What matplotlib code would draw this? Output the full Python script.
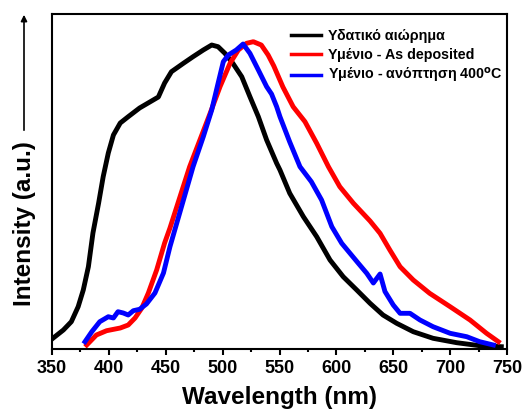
import numpy as np
import matplotlib
matplotlib.use("Agg")
import matplotlib.pyplot as plt
from matplotlib.ticker import MultipleLocator

plt.rcParams['font.family'] = ['Liberation Sans', 'DejaVu Sans']
plt.rcParams['font.weight'] = 'bold'

# Φάσματα φωτοφωταύγειας (ένταση σε pixel από τον άξονα, 349 = μηδέν)
wl_suspension = [350, 360, 367, 373, 377.5, 382, 386, 391, 395, 399.5, 404, 410, 417, 427,
                 436, 443.5, 449, 455, 465.5, 474, 483, 490.4, 496, 502, 509, 516.8, 524,
                 531.4, 538.7, 547.5, 550.4, 559, 571, 582.7, 594.4, 606, 617.9, 629.6,
                 641, 653, 667.6, 685, 705.8, 726, 745]
px_suspension = [339, 330, 321.7, 306.7, 290, 266.7, 233, 203, 176.7, 153, 135, 123, 116.7, 108,
                 102, 97, 83, 71.7, 63.3, 56.7, 50, 45, 46.7, 53.3, 63.3, 76.7, 96.7,
                 116.7, 140, 163.3, 170, 193.3, 216.7, 236.7, 260, 276.7, 290, 303.3,
                 315, 323.3, 331.7, 338.3, 342.7, 345.7, 346.7]

wl_deposited = [380.5, 389, 398, 410, 417, 423, 429, 434.7, 442, 449, 453.7, 471, 480, 489,
                497.7, 506.5, 513.8, 521, 527, 534, 540, 545, 553, 562, 572.4, 582.7, 593,
                603, 615, 629.6, 638.4, 647, 656, 667.6, 682, 700, 717.5, 732, 742.4]
px_deposited = [345, 335, 330.7, 328, 325, 318, 308, 293, 270, 243, 228, 166.7, 140, 113.3,
                86.7, 63.3, 50, 43.3, 41.7, 45, 55, 66, 87, 106.7, 121.7, 143.3, 166.7,
                186.7, 203.3, 221, 233.3, 250, 266.7, 280, 293.3, 306.7, 320, 333.3, 341.7]

wl_annealed = [379, 385, 392, 399.5, 404, 408, 412.7, 417, 421.5, 427, 433, 440.5, 448, 453.7,
               474, 483, 490.4, 496, 500.6, 505, 512, 518, 524, 531.4, 538.7, 543, 547.5,
               550.4, 559, 568, 578, 587, 596, 604.7, 612, 619.3, 626.7, 632.5, 638.4, 642.7,
               650, 656, 664.7, 673.5, 685, 700, 714.6, 726, 738]
px_annealed = [341.7, 331.7, 321.7, 316.7, 318, 311.7, 313, 315, 310.7, 309.3, 304, 293, 273, 246.7,
               166.7, 136.7, 110, 83.3, 61.7, 55, 50, 44, 53.3, 70, 86.7, 94, 106.7,
               116.7, 142, 166.7, 181.7, 200, 226.7, 243.3, 253.3, 263.3, 273.3, 283, 274, 291.5,
               305, 313.3, 313.3, 320, 326.7, 333.3, 336.7, 341.7, 345]

labels = ['Υδατικό αιώρημα', 'Υμένιο - As deposited', 'Υμένιο - ανόπτηση 400$^{\\mathrm{o}}$C']
colors = ['black', 'red', 'blue']

def to_intensity(p):
    return (349 - np.array(p)) / 308.0

fig = plt.figure(figsize=(5.22, 4.12), dpi=100)
ax = fig.add_axes([0.0996, 0.1529, 0.8717, 0.8131])

series = [(wl_suspension, px_suspension), (wl_deposited, px_deposited), (wl_annealed, px_annealed)]
for (x, p), c, lab in zip(series, colors, labels):
    ax.plot(x, to_intensity(p), color=c, lw=3.5, label=lab, solid_joinstyle='round')

ax.set_xlim(350, 750)
ax.set_ylim(0, (349 - 14) / 308.0)
ax.xaxis.set_major_locator(MultipleLocator(50))
ax.xaxis.set_minor_locator(MultipleLocator(25))
ax.tick_params(axis='x', which='major', direction='out', length=4, width=1.5, labelsize=13, pad=4)
ax.tick_params(axis='x', which='minor', direction='out', length=2.5, width=1.5)
ax.tick_params(axis='y', left=False, labelleft=False)
for s in ax.spines.values():
    s.set_linewidth(1.5)

ax.set_xlabel('Wavelength (nm)', fontsize=17.5, fontweight='bold', labelpad=6.5)

# Άξονας έντασης με βέλος
fig.text(0.047, 0.4575, 'Intensity (a.u.)', rotation=90, ha='center', va='center',
         fontsize=17.5, fontweight='bold')
fig.patches.append(matplotlib.patches.FancyArrowPatch(
    (24 / 522, (412 - 133) / 412), (24 / 522, (412 - 12) / 412),
    transform=fig.transFigure, arrowstyle='-|>', mutation_scale=9, lw=1.2, color='black'))

leg = ax.legend(loc='upper right', bbox_to_anchor=(1.0, 0.968), frameon=False, fontsize=10.3,
                handlelength=2.1, handletextpad=0.5, labelspacing=0.32, borderpad=0.2,
                borderaxespad=0.1)
for h in leg.get_lines():
    h.set_linewidth(2.5)

plt.savefig('out.png', dpi=100)
